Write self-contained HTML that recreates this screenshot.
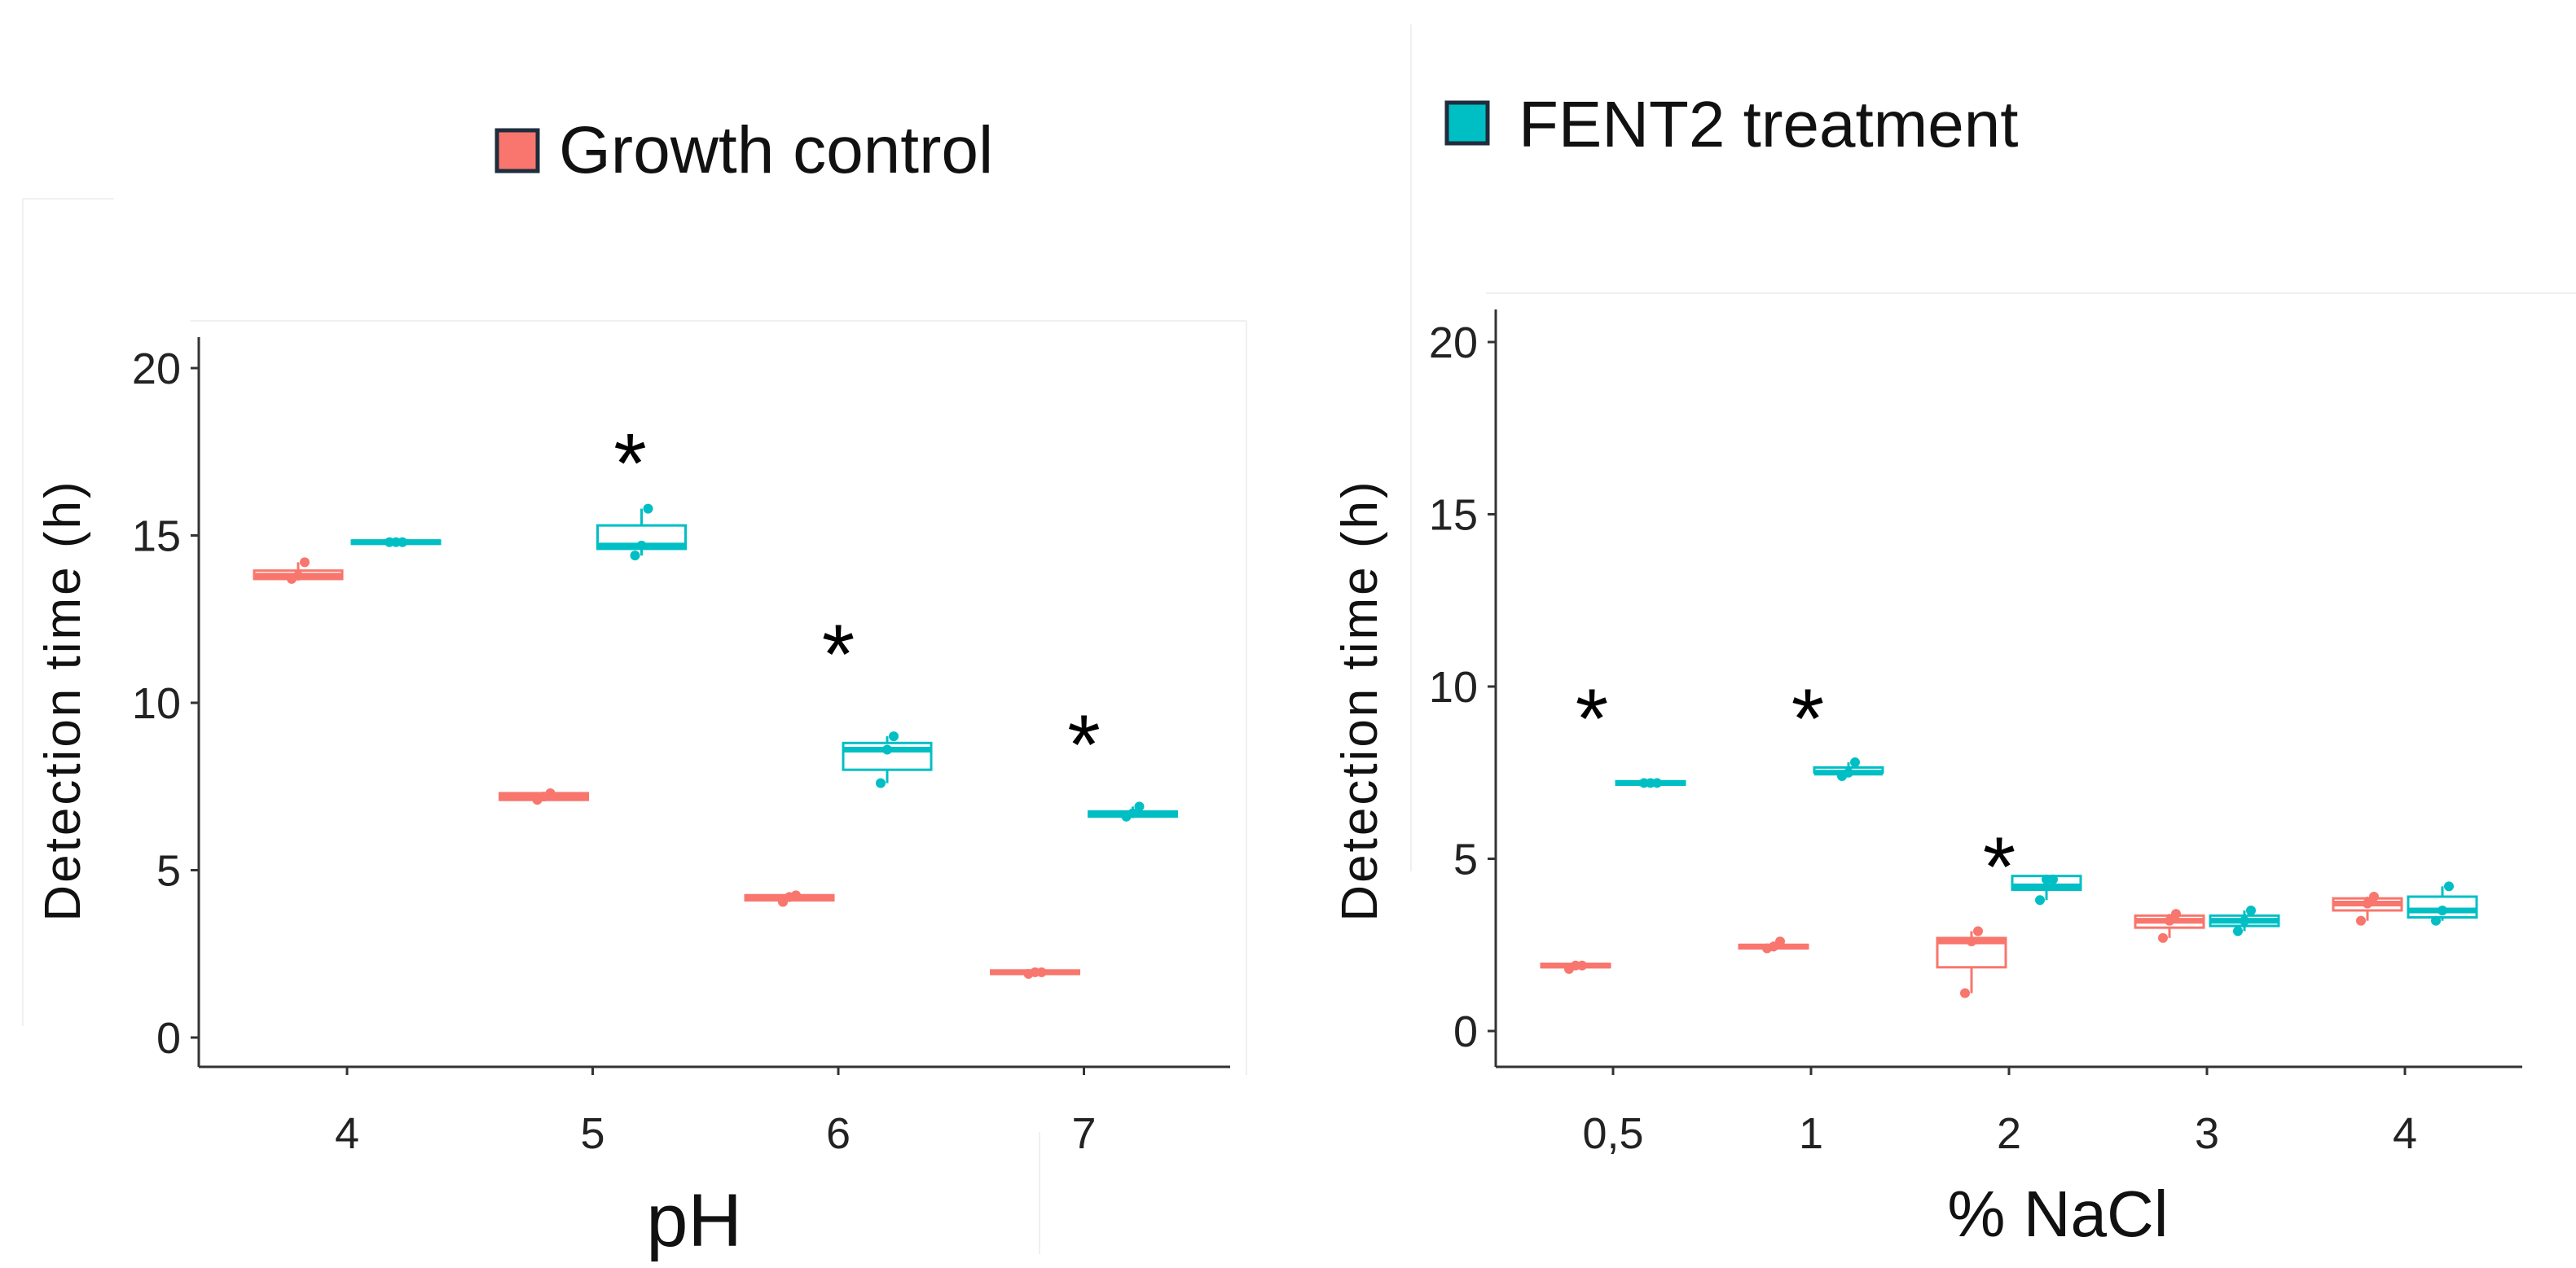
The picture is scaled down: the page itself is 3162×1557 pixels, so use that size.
<!DOCTYPE html>
<html><head><meta charset="utf-8"><style>
html,body{margin:0;padding:0;background:#fff;}
svg{display:block;font-family:"Liberation Sans",sans-serif;}
</style></head><body>
<svg id="s" width="3162" height="1557" viewBox="0 0 3162 1557">
<g stroke="#f0f0f0" stroke-width="2" fill="none">
<line x1="28" y1="244" x2="28" y2="1260"/><line x1="28" y1="244" x2="140" y2="244"/>
<line x1="234" y1="394" x2="1530" y2="394"/><line x1="1530" y1="394" x2="1530" y2="1320"/>
<line x1="1732" y1="30" x2="1732" y2="1070"/><line x1="1824" y1="360" x2="3162" y2="360"/>
<line x1="1276" y1="1390" x2="1276" y2="1540"/>
</g>
<g>
<rect x="610" y="160" width="50" height="50" fill="#F8766D" stroke="#1f2d3d" stroke-width="5"/>
<text x="686" y="212" font-size="82" fill="#111">Growth control</text>
</g>
<g>
<rect x="1776" y="126" width="50" height="50" fill="#00BFC4" stroke="#1f2d3d" stroke-width="5"/>
<text x="1864" y="180" font-size="80" fill="#111">FENT2 treatment</text>
</g>
<g id="left"></g>
<g id="right"></g>
</svg>
<script>
// pH chart data
const phCategories = ["4","5","6","7"];
const phControlBox = [[13.7,13.8,13.95],[7.1,7.2,7.3],[4.1,4.2,4.25],[1.9,1.95,2.0]];
const phControlPoints = [[13.7,13.8,14.2],[7.1,7.2,7.3],[4.05,4.2,4.25],[1.9,1.95,1.95]];
const phTreatBox = [[14.75,14.8,14.85],[14.6,14.7,15.3],[8.0,8.6,8.8],[6.6,6.7,6.75]];
const phTreatPoints = [[14.8,14.8,14.8],[14.4,14.7,15.8],[7.6,8.6,9.0],[6.6,6.7,6.9]];
const phStars = [null,17.6,11.9,9.2];
const phTicks = [0,5,10,15,20];
// NaCl chart data
const naclCategories = ["0,5","1","2","3","4"];
const naclControlBox = [[1.85,1.9,1.95],[2.4,2.45,2.5],[1.85,2.6,2.7],[3.0,3.2,3.35],[3.5,3.7,3.85]];
const naclControlPoints = [[1.8,1.9,1.9],[2.4,2.45,2.6],[1.1,2.6,2.9],[2.7,3.2,3.4],[3.2,3.7,3.9]];
const naclTreatBox = [[7.15,7.2,7.25],[7.5,7.5,7.65],[4.1,4.2,4.5],[3.05,3.2,3.35],[3.3,3.5,3.9]];
const naclTreatPoints = [[7.2,7.2,7.2],[7.4,7.5,7.8],[3.8,4.4,4.4],[2.9,3.2,3.5],[3.2,3.5,4.2]];
const naclStars = [9.5,9.5,5.2,null,null];
const naclTicks = [0,5,10,15,20];

const NS="http://www.w3.org/2000/svg";
function mk(p,tag,a){const e=document.createElementNS(NS,tag);for(const k in a)e.setAttribute(k,a[k]);p.appendChild(e);return e;}

function draw(g,cfg,cats,cBox,cPts,tBox,tPts,stars,ticks){
  const y=v=>cfg.y0-(cfg.y0-cfg.y20)*v/20;
  const x=i=>cfg.xs+i*cfg.step;
  let e=mk(g,'line',{x1:cfg.ax,y1:cfg.top,x2:cfg.ax,y2:cfg.bot,stroke:'#333','stroke-width':3});
  
  
  e=mk(g,'line',{x1:cfg.ax,y1:cfg.bot,x2:cfg.right,y2:cfg.bot,stroke:'#333','stroke-width':3});
  
  
  ticks.forEach(t=>{
    mk(g,'line',{x1:cfg.ax-10,y1:y(t),x2:cfg.ax,y2:y(t),stroke:'#333','stroke-width':3});
    const tx=mk(g,'text',{x:cfg.ax-22,y:y(t)+19,'font-size':cfg.fs,'text-anchor':'end',fill:'#222'});
    tx.textContent=t;
    
    
  });
  cats.forEach((c,i)=>{
    mk(g,'line',{x1:x(i),y1:cfg.bot,x2:x(i),y2:cfg.bot+10,stroke:'#333','stroke-width':3});
    const tx=mk(g,'text',{x:x(i),y:cfg.bot+cfg.tlOff,'font-size':cfg.fs,'text-anchor':'middle',fill:'#222'});
    tx.textContent=c;
    
    
    [[cBox,cPts,'#F8766D',-cfg.off,'control'],[tBox,tPts,'#00BFC4',cfg.off,'treatment']].forEach(([B,P,col,o,nm])=>{
      const b=B[i],p=P[i],cx=x(i)+o,w=cfg.bw;
      const lo=Math.min(...p),hi=Math.max(...p);
      const gg=mk(g,'g',{});
      
      
      mk(gg,'line',{x1:cx,y1:y(hi),x2:cx,y2:y(lo),stroke:col,'stroke-width':3});
      mk(gg,'rect',{x:cx-w/2,y:y(b[2]),width:w,height:Math.max(y(b[0])-y(b[2]),4),fill:'#fff',stroke:col,'stroke-width':3});
      mk(gg,'line',{x1:cx-w/2,y1:y(b[1]),x2:cx+w/2,y2:y(b[1]),stroke:col,'stroke-width':7});
      p.forEach((v,k)=>{const d=mk(gg,'circle',{cx:cx+(k-1)*8,cy:y(v),r:6,fill:col});
        
        });
    });
    if(stars[i]!=null){
      const s=mk(g,'text',{x:x(i)+cfg.starOffs[i],y:y(stars[i])+54,'font-size':104,'text-anchor':'middle',fill:'#000'});
      s.textContent='*';
      
      
    }
  });
  let t=mk(g,'text',{transform:`translate(${cfg.ytx},${cfg.yty}) rotate(-90)`,'font-size':62,'text-anchor':'middle',fill:'#111','letter-spacing':'3'});
  t.textContent='Detection time (h)';
  
  
  t=mk(g,'text',{x:cfg.xtx,y:cfg.xty,'font-size':cfg.xtfs,'text-anchor':'middle',fill:'#111'});
  t.textContent=cfg.xtitle;
  
  
}
draw(document.getElementById('left'),{ax:244,top:414,bot:1310,right:1510,y0:1274,y20:452,xs:426,step:301.5,off:60,bw:108,fs:54,tlOff:100,starOffs:[0,46,0,0],ytx:98,yty:860,xtx:852,xty:1530,xtfs:92,xtitle:'pH'},
  phCategories,phControlBox,phControlPoints,phTreatBox,phTreatPoints,phStars,phTicks);
draw(document.getElementById('right'),{ax:1836,top:380,bot:1310,right:3096,y0:1266,y20:420,xs:1980,step:243,off:46,bw:84,fs:54,tlOff:100,starOffs:[-26,-4,-12,0,0],ytx:1690,yty:860,xtx:2526,xty:1518,xtfs:80,xtitle:'% NaCl'},
  naclCategories,naclControlBox,naclControlPoints,naclTreatBox,naclTreatPoints,naclStars,naclTicks);
</script>
</body></html>
